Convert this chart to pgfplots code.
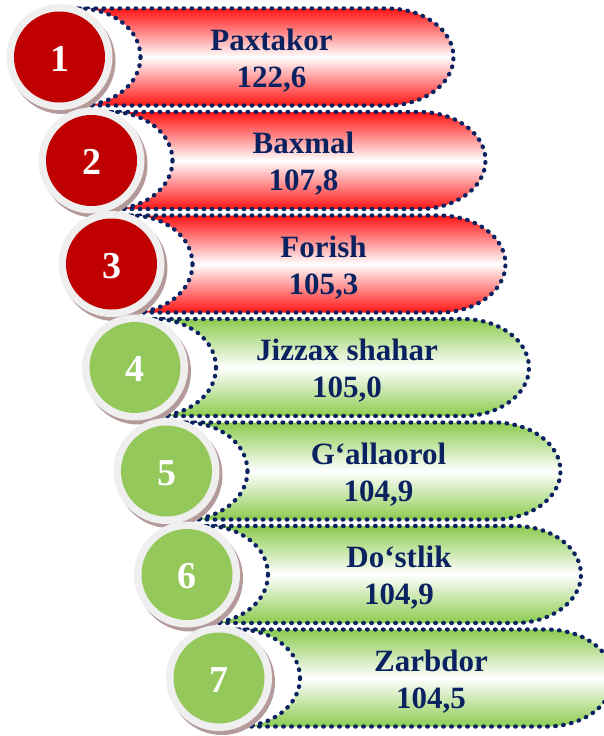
\documentclass[border=0pt]{standalone}
\usepackage{fontspec}
\setmainfont{Liberation Serif}
\usepackage{pgfplots}
\usepackage{pgfplotstable}
\pgfplotsset{compat=1.18}

\definecolor{navy}{HTML}{0A2260}
\definecolor{bandred}{HTML}{FF1414}
\definecolor{bandgreen}{HTML}{8CCB4E}
\definecolor{diskred}{HTML}{C00000}
\definecolor{diskgreen}{HTML}{94C85A}
\definecolor{ringc}{HTML}{EFEFEF}
\definecolor{shadowc}{HTML}{B49A9A}

\pgfdeclareverticalshading{redband}{100bp}{color(0bp)=(bandred); color(25bp)=(bandred); color(50bp)=(white); color(75bp)=(bandred); color(100bp)=(bandred)}
\pgfdeclareverticalshading{greenband}{100bp}{color(0bp)=(bandgreen); color(25bp)=(bandgreen); color(50bp)=(white); color(75bp)=(bandgreen); color(100bp)=(bandgreen)}

\makeatletter
\def\pillpath{%
  \pgfpathmoveto{\pgfqpoint{0pt}{48.5pt}}%
  \pgfpathlineto{\pgfqpoint{308pt}{48.5pt}}%
  \pgfpatharc{90}{-90}{66pt and 48.5pt}%
  \pgfpathlineto{\pgfqpoint{0pt}{-48.5pt}}%
  \pgfpathclose}
\def\dotset{%
  \pgfsetlinewidth{4.2pt}\pgfsetroundcap\pgfsetroundjoin
  \pgfsetdash{{0.7pt}{7.3pt}}{0pt}%
  \pgfsetstrokecolor{navy}}
\pgfdeclareplotmark{redpill}{%
  \pgfscope\pillpath\pgfshadepath{redband}{0}\pgfusepath{discard}\endpgfscope
  \pgfscope\dotset\pillpath\pgfusepath{stroke}\endpgfscope}
\pgfdeclareplotmark{greenpill}{%
  \pgfscope\pillpath\pgfshadepath{greenband}{0}\pgfusepath{discard}\endpgfscope
  \pgfscope\dotset\pillpath\pgfusepath{stroke}\endpgfscope}
\pgfdeclareplotmark{wellipse}{%
  \pgfscope\dotset\pgfsetfillcolor{white}%
  \pgfpathellipse{\pgfpointorigin}{\pgfqpoint{61pt}{0pt}}{\pgfqpoint{0pt}{48.5pt}}%
  \pgfusepath{fill,stroke}\endpgfscope}
\pgfdeclareplotmark{disk}{%
  \pgfpathcircle{\pgfpointorigin}{\pgfplotmarksize}\pgfusepath{fill}}
\pgfdeclareplotmark{nothing}{}
\makeatother

\pgfplotstableread[col sep=semicolon]{
rank;cx;cy;name;val
1;59.5;57;Paxtakor;122.6
2;91.5;160.5;Baxmal;107.8
3;111.5;264;Forish;105.3
4;135;367.5;Jizzax shahar;105.0
5;166.5;471;G‘allaorol;104.9
6;187;574.5;Do‘stlik;104.9
7;219;678;Zarbdor;104.5
}\data

\pgfplotsset{
  noMark/.style={only marks, mark=nothing},
}

\begin{document}
\begin{tikzpicture}
\begin{axis}[x=1pt, y=1pt, y dir=reverse, xmin=0, xmax=603, ymin=0, ymax=736,
  hide axis, clip=false, scale only axis]
% pills
\addplot[only marks, mark=redpill, skip coords between index={3}{7}]
  table[x expr=\thisrow{cx}+20, y=cy]{\data};
\addplot[only marks, mark=greenpill, skip coords between index={0}{3}]
  table[x expr=\thisrow{cx}+20, y=cy]{\data};
% white ellipses
\addplot[only marks, mark=wellipse]
  table[x expr=\thisrow{cx}+20, y=cy]{\data};
% badge shadows
\addplot[only marks, mark=disk, mark size=53pt, mark options={fill=shadowc}]
  table[x expr=\thisrow{cx}+3, y expr=\thisrow{cy}+4]{\data};
% badge rings
\addplot[only marks, mark=disk, mark size=53pt, mark options={fill=ringc}]
  table[x=cx, y=cy]{\data};
% badge disks
\addplot[only marks, mark=disk, mark size=45.5pt, mark options={fill=diskred},
  skip coords between index={3}{7}]
  table[x=cx, y=cy]{\data};
\addplot[only marks, mark=disk, mark size=45.5pt, mark options={fill=diskgreen},
  skip coords between index={0}{3}]
  table[x=cx, y=cy]{\data};
% badge numbers
\addplot[noMark, point meta=explicit symbolic,
  nodes near coords,
  every node near coord/.append style={anchor=base, inner sep=0pt, text=white, font=\fontsize{38}{40}\selectfont\bfseries}]
  table[x=cx, y expr=\thisrow{cy}+14, meta=rank]{\data};
% names
\addplot[noMark, point meta=explicit symbolic,
  nodes near coords,
  every node near coord/.append style={anchor=base, inner sep=0pt, text=navy, font=\fontsize{31}{37}\selectfont\bfseries}]
  table[x expr=\thisrow{cx}+212, y expr=\thisrow{cy}-7, meta=name]{\data};
% values
\addplot[noMark, point meta=explicit,
  nodes near coords={\pgfmathprintnumber[fixed, fixed zerofill, precision=1, use comma, assume math mode=true]{\pgfplotspointmeta}},
  every node near coord/.append style={anchor=base, inner sep=0pt, text=navy, font=\fontsize{31}{37}\selectfont\bfseries}]
  table[x expr=\thisrow{cx}+212, y expr=\thisrow{cy}+30, meta=val]{\data};
\end{axis}
\pgfresetboundingbox
\useasboundingbox (current axis.south west) rectangle (current axis.north east);
\end{tikzpicture}
\end{document}
